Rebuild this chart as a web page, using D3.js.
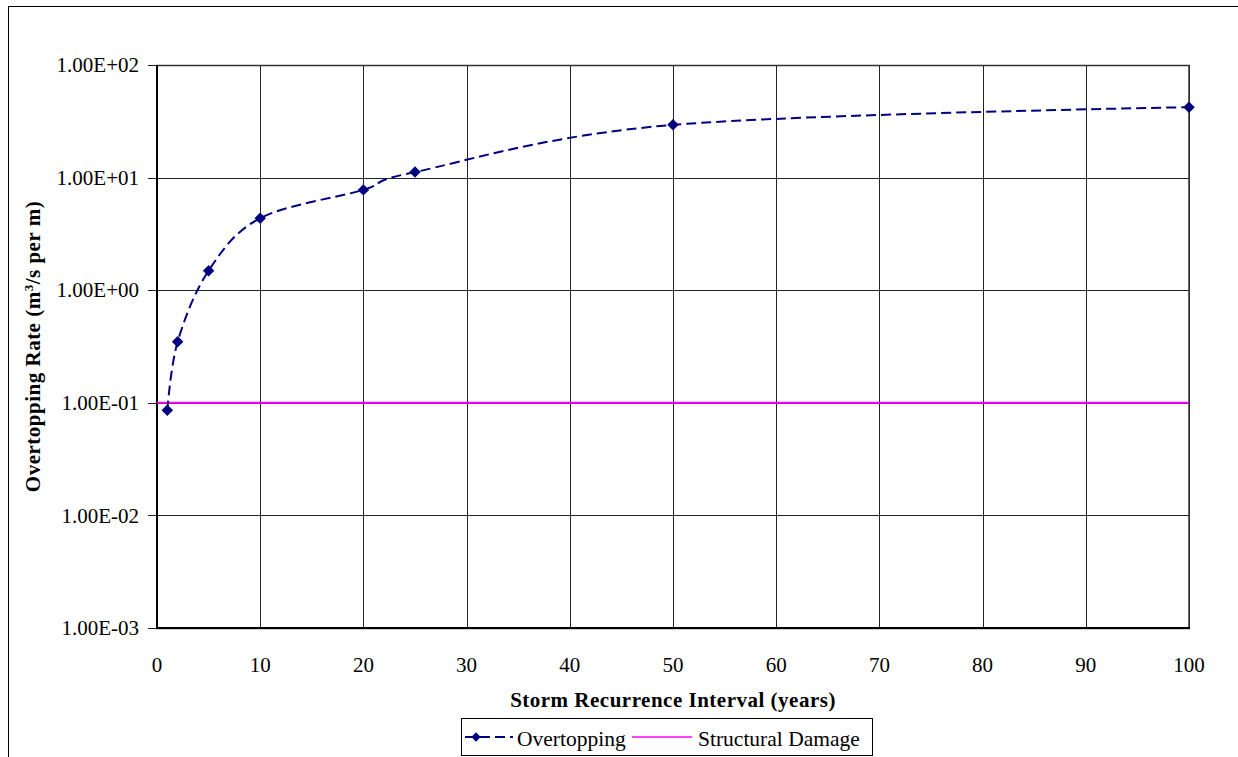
<!DOCTYPE html>
<html>
<head>
<meta charset="utf-8">
<script src="https://cdn.jsdelivr.net/npm/d3@7"></script>
<style>
  html, body { margin: 0; padding: 0; background: #fff; }
  svg { display: block; }
</style>
</head>
<body>
<svg id="chart" width="1238" height="757"></svg>
<script>
// ---- data ----
const years = [1, 2, 5, 10, 20, 25, 50, 100];
const overtopping = [0.0857, 0.348, 1.49, 4.36, 7.78, 11.2, 29.4, 42.2];
const structuralDamage = 0.1;
const yTickValues = [1e-3, 1e-2, 1e-1, 1e0, 1e1, 1e2];
const yTickLabels = ["1.00E-03", "1.00E-02", "1.00E-01", "1.00E+00", "1.00E+01", "1.00E+02"];
const xTickValues = [0, 10, 20, 30, 40, 50, 60, 70, 80, 90, 100];
const seriesNames = ["Overtopping", "Structural Damage"];

const FONT = "'Liberation Serif', 'DejaVu Serif', serif";

// ---- layout ----
const svg = d3.select("#chart");
const plot = { left: 157, top: 65, right: 1189, bottom: 628 };

const x = d3.scaleLinear().domain([0, 100]).range([plot.left, plot.right]);
const y = d3.scaleLog().domain([1e-3, 1e2]).range([plot.bottom, plot.top]);

// outer frame (extends past the window on right/bottom)
svg.append("rect")
  .attr("x", 8.5).attr("y", 6.5).attr("width", 1250).attr("height", 770)
  .attr("fill", "none").attr("stroke", "#000").attr("stroke-width", 1);

// gridlines
const g = svg.append("g");
g.selectAll("line.hgrid").data(yTickValues).enter().append("line")
  .attr("class", "hgrid")
  .attr("x1", plot.left - 9).attr("x2", plot.right)
  .attr("y1", d => Math.round(y(d)) + 0.5).attr("y2", d => Math.round(y(d)) + 0.5)
  .attr("stroke", "#222").attr("stroke-width", 1);
g.selectAll("line.vgrid").data(xTickValues).enter().append("line")
  .attr("class", "vgrid")
  .attr("x1", d => Math.round(x(d)) + 0.5).attr("x2", d => Math.round(x(d)) + 0.5)
  .attr("y1", plot.top).attr("y2", plot.bottom)
  .attr("stroke", "#222").attr("stroke-width", 1);

// plot border
svg.append("rect")
  .attr("x", plot.left).attr("y", plot.top + 0.5)
  .attr("width", plot.right - plot.left).attr("height", plot.bottom - plot.top)
  .attr("fill", "none").attr("stroke", "#333").attr("stroke-width", 1.5);
svg.append("line").attr("x1", plot.left).attr("x2", plot.left)
  .attr("y1", plot.top).attr("y2", plot.bottom + 1)
  .attr("stroke", "#000").attr("stroke-width", 2);
svg.append("line").attr("x1", plot.left).attr("x2", plot.right + 1)
  .attr("y1", plot.bottom).attr("y2", plot.bottom)
  .attr("stroke", "#000").attr("stroke-width", 2);

// y tick labels
svg.selectAll("text.ytick").data(yTickValues).enter().append("text")
  .attr("class", "ytick")
  .attr("font-family", FONT)
  .attr("x", 139).attr("y", d => y(d))
  .attr("dy", "0.34em")
  .attr("text-anchor", "end")
  .attr("font-size", 21)
  .text((d, i) => yTickLabels[i]);

// x tick labels
svg.selectAll("text.xtick").data(xTickValues).enter().append("text")
  .attr("class", "xtick")
  .attr("font-family", FONT)
  .attr("x", d => x(d)).attr("y", 672)
  .attr("text-anchor", "middle")
  .attr("font-size", 21)
  .text(d => d);

// axis titles
svg.append("text")
  .attr("font-family", FONT)
  .attr("x", (plot.left + plot.right) / 2).attr("y", 707)
  .attr("text-anchor", "middle")
  .attr("font-size", 21).attr("font-weight", "bold")
  .attr("letter-spacing", 0.5)
  .text("Storm Recurrence Interval (years)");

const yt = svg.append("text")
  .attr("font-family", FONT)
  .attr("transform", `translate(40,${(plot.top + plot.bottom) / 2}) rotate(-90)`)
  .attr("text-anchor", "middle")
  .attr("font-size", 21).attr("font-weight", "bold")
  .attr("letter-spacing", 0.5);
yt.append("tspan").text("Overtopping Rate (m");
yt.append("tspan").attr("baseline-shift", "super").attr("font-size", 13).text("3");
yt.append("tspan").text("/s per m)");

// structural damage line
svg.append("line")
  .attr("x1", plot.left).attr("x2", plot.right)
  .attr("y1", y(structuralDamage)).attr("y2", y(structuralDamage))
  .attr("stroke", "#FF00FF").attr("stroke-width", 2);

// overtopping curve
const pts = years.map((d, i) => [d, overtopping[i]]);
const line = d3.line().x(d => x(d[0])).y(d => y(d[1])).curve(d3.curveCardinal.tension(0));
svg.append("path")
  .attr("d", line(pts))
  .attr("fill", "none").attr("stroke", "#000080")
  .attr("stroke-width", 2).attr("stroke-dasharray", "10,5");

const diamond = d3.symbol().type(d3.symbolSquare).size(66);
svg.selectAll("path.pt").data(pts).enter().append("path")
  .attr("class", "pt")
  .attr("d", diamond)
  .attr("transform", d => `translate(${x(d[0])},${y(d[1])}) rotate(45)`)
  .attr("fill", "#000080");

// legend
const lg = svg.append("g");
lg.append("rect").attr("x", 461.5).attr("y", 718.5).attr("width", 411).attr("height", 37)
  .attr("fill", "#fff").attr("stroke", "#000").attr("stroke-width", 1);
lg.append("line").attr("x1", 465).attr("x2", 513).attr("y1", 737).attr("y2", 737)
  .attr("stroke", "#000080").attr("stroke-width", 2).attr("stroke-dasharray", "10,5");
lg.append("path").attr("d", d3.symbol().type(d3.symbolSquare).size(44))
  .attr("transform", "translate(476,737) rotate(45)").attr("fill", "#000080");
lg.append("text").attr("font-family", FONT).attr("x", 517).attr("y", 746).attr("font-size", 21.5).text(seriesNames[0]);
lg.append("line").attr("x1", 632).attr("x2", 692).attr("y1", 737).attr("y2", 737)
  .attr("stroke", "#FF00FF").attr("stroke-width", 1.5);
lg.append("text").attr("font-family", FONT).attr("x", 698).attr("y", 746).attr("font-size", 21.5).text(seriesNames[1]);
</script>
</body>
</html>
